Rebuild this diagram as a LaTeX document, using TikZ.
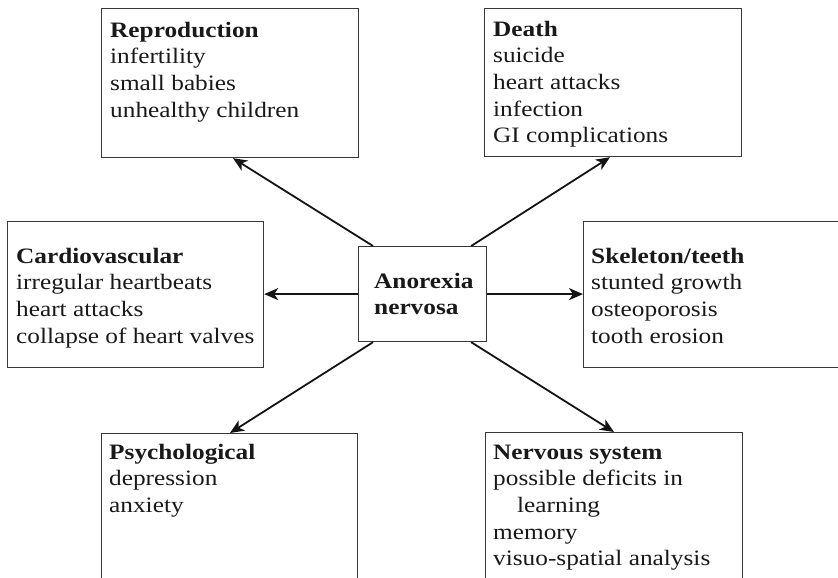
\documentclass[tikz,border=0pt]{standalone}
\usepackage{fontspec}
\setmainfont{Liberation Serif}[FakeStretch=1.15]
\usetikzlibrary{arrows.meta}
\begin{document}
\begin{tikzpicture}[x=1pt,y=-1pt,
  box/.style={draw=black!78,line width=1.2pt,rectangle,inner sep=0pt,anchor=north west},
  % multi-line texts are placed by the baseline of their last line
  txt/.style={inner sep=0pt,anchor=base west,align=left,text=black!90,
    font=\fontsize{22}{26.7}\selectfont},
  arr/.style={draw=black!92,line width=1.8pt,
    -{Stealth[length=14pt,width=12pt,inset=4pt]}}]
\useasboundingbox (0,0) rectangle (838,578);
\clip (0,0) rectangle (838,578);
% outer boxes
\node[box,minimum width=257pt,minimum height=149pt] (repro) at (101,8) {};
\node[box,minimum width=257pt,minimum height=148pt] (death) at (484,8) {};
\node[box,minimum width=256pt,minimum height=146pt] (cardio) at (7,221) {};
\node[box,minimum width=280pt,minimum height=146pt] (skel) at (583,221) {};
\node[box,minimum width=256pt,minimum height=170pt] (psych) at (101,433) {};
\node[box,minimum width=257pt,minimum height=170pt] (nerv) at (485,432) {};
% central box
\node[box,minimum width=128pt,minimum height=95pt] (ano) at (358,246) {};
\node[txt] (anoT) at (374,314.7) {\textbf{Anorexia}\\\textbf{nervosa}};
% box texts
\node[txt] (reproT) at (110,117.1) {\textbf{Reproduction}\\infertility\\small babies\\unhealthy children};
\node[txt] (deathT) at (493,142.8) {\textbf{Death}\\suicide\\heart attacks\\infection\\GI complications};
\node[txt] (cardioT) at (16,343.1) {\textbf{Cardiovascular}\\irregular heartbeats\\heart attacks\\collapse of heart valves};
\node[txt] (skelT) at (591,343.1) {\textbf{Skeleton/teeth}\\stunted growth\\osteoporosis\\tooth erosion};
\node[txt] (psychT) at (109,512.4) {\textbf{Psychological}\\depression\\anxiety};
\node[txt] (nervT) at (493,565.8) {\textbf{Nervous system}\\possible deficits in\\\hspace*{24pt}learning\\memory\\visuo-spatial analysis};
% connectors
\draw[arr] ([xshift=15pt]ano.north west) -- ([xshift=132pt]repro.south west);
\draw[arr] ([xshift=-16pt]ano.north east) -- ([xshift=126pt]death.south west);
\draw[arr] (ano.west) -- (ano.west -| cardio.east);
\draw[arr] (ano.east) -- (ano.east -| skel.west);
\draw[arr] ([xshift=15pt]ano.south west) -- ([xshift=129pt]psych.north west);
\draw[arr] ([xshift=-16pt]ano.south east) -- ([xshift=129pt]nerv.north west);
\end{tikzpicture}
\end{document}
